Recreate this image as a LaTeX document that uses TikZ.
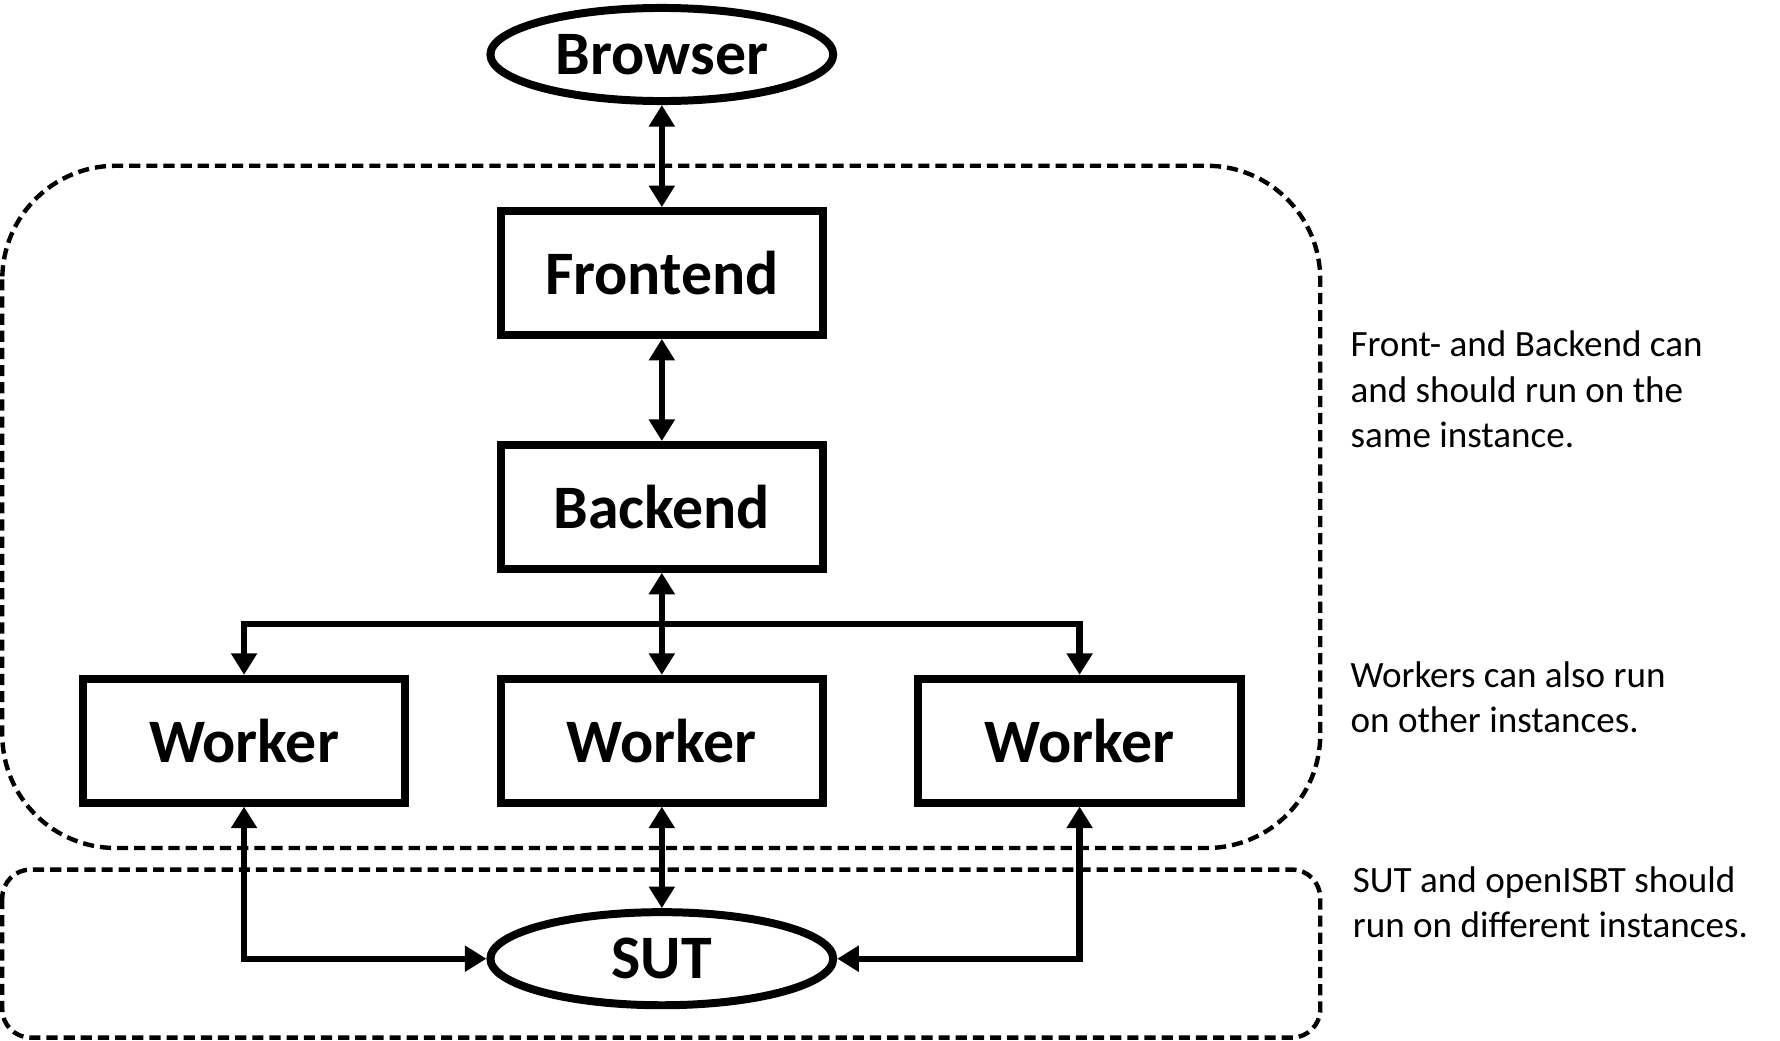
\documentclass[tikz,border=0pt]{standalone}
\usepackage{fontspec}
\setmainfont{Carlito}
\usetikzlibrary{arrows.meta, shapes.geometric, calc}
\tikzset{
    % node style
    every node/.style = {font=\bfseries\fontsize{15.5}{18}\selectfont},
    % arrow style
    >={Triangle[width=2.2mm, length=1.9mm]},
    % abstract base node style
    base/.style = {
        draw, line width=2pt,
        text centered, inner sep=0pt
    },
    % special node styles (inherited from base style)
    component/.style = {base, rectangle, minimum height=1.09cm, minimum width=2.84cm},
    endpoint/.style = {base, ellipse, minimum height=0.82cm, minimum width=3.02cm},
    % connector, group and note styles
    link/.style = {line width=1.6pt},
    group/.style = {draw, line width=1.1pt, dash pattern=on 2.8pt off 1.5pt},
    note/.style = {anchor=west, align=left, inner sep=0pt, font=\fontsize{9.3}{11.4}\selectfont}
}

\begin{document}
\begin{tikzpicture}[node distance=2.06cm]
        \useasboundingbox (0,0) rectangle (15.68,-9.17);
        % dashed instance groups
        \draw[group, rounded corners=1cm] (0.02,-1.46) rectangle (11.63,-7.47);
        \draw[group, rounded corners=0.25cm] (0.02,-7.66) rectangle (11.63,-9.14);
        % place blocks of the diagram
        \node[endpoint] (browser) at (5.83,-0.48) {Browser};
        \node[component] (frontend) [below of=browser, yshift=0.135cm] {Frontend};
        \node[component] (backend) [below of=frontend] {Backend};
        \node[component] (workerB) [below of=backend] {Worker};
        \node[component] (workerA) [left of=workerB, xshift=-1.62cm] {Worker};
        \node[component] (workerC) [right of=workerB, xshift=1.62cm] {Worker};
        \node[endpoint] (sut) [below of=workerB, yshift=0.14cm] {SUT};
        % notes on the right
        \node[note] (noteFrontBack) at (11.89,-3.43) {Front- and Backend can\\and should run on the\\same instance.};
        \node[note] (noteWorkers) at (11.89,-6.14) {Workers can also run\\on other instances.};
        \node[note] (noteSut) at (11.91,-7.95) {SUT and openISBT should\\run on different instances.};
        % draw straight arrows
        \path[link, <->] (browser) edge (frontend)
                  (frontend) edge (backend)
                  (backend) edge (workerB)
                  (workerB) edge (sut);
        % draw right angle arrows
        \coordinate (split) at ($(backend.south)!0.5!(workerB.north)$);
        \draw[link, ->] (split) -| (workerA);
        \draw[link, ->] (split) -| (workerC);
        \draw[link, <->] (workerA) |- (sut);
        \draw[link, <->] (workerC) |- (sut);
    \end{tikzpicture}
\end{document}
